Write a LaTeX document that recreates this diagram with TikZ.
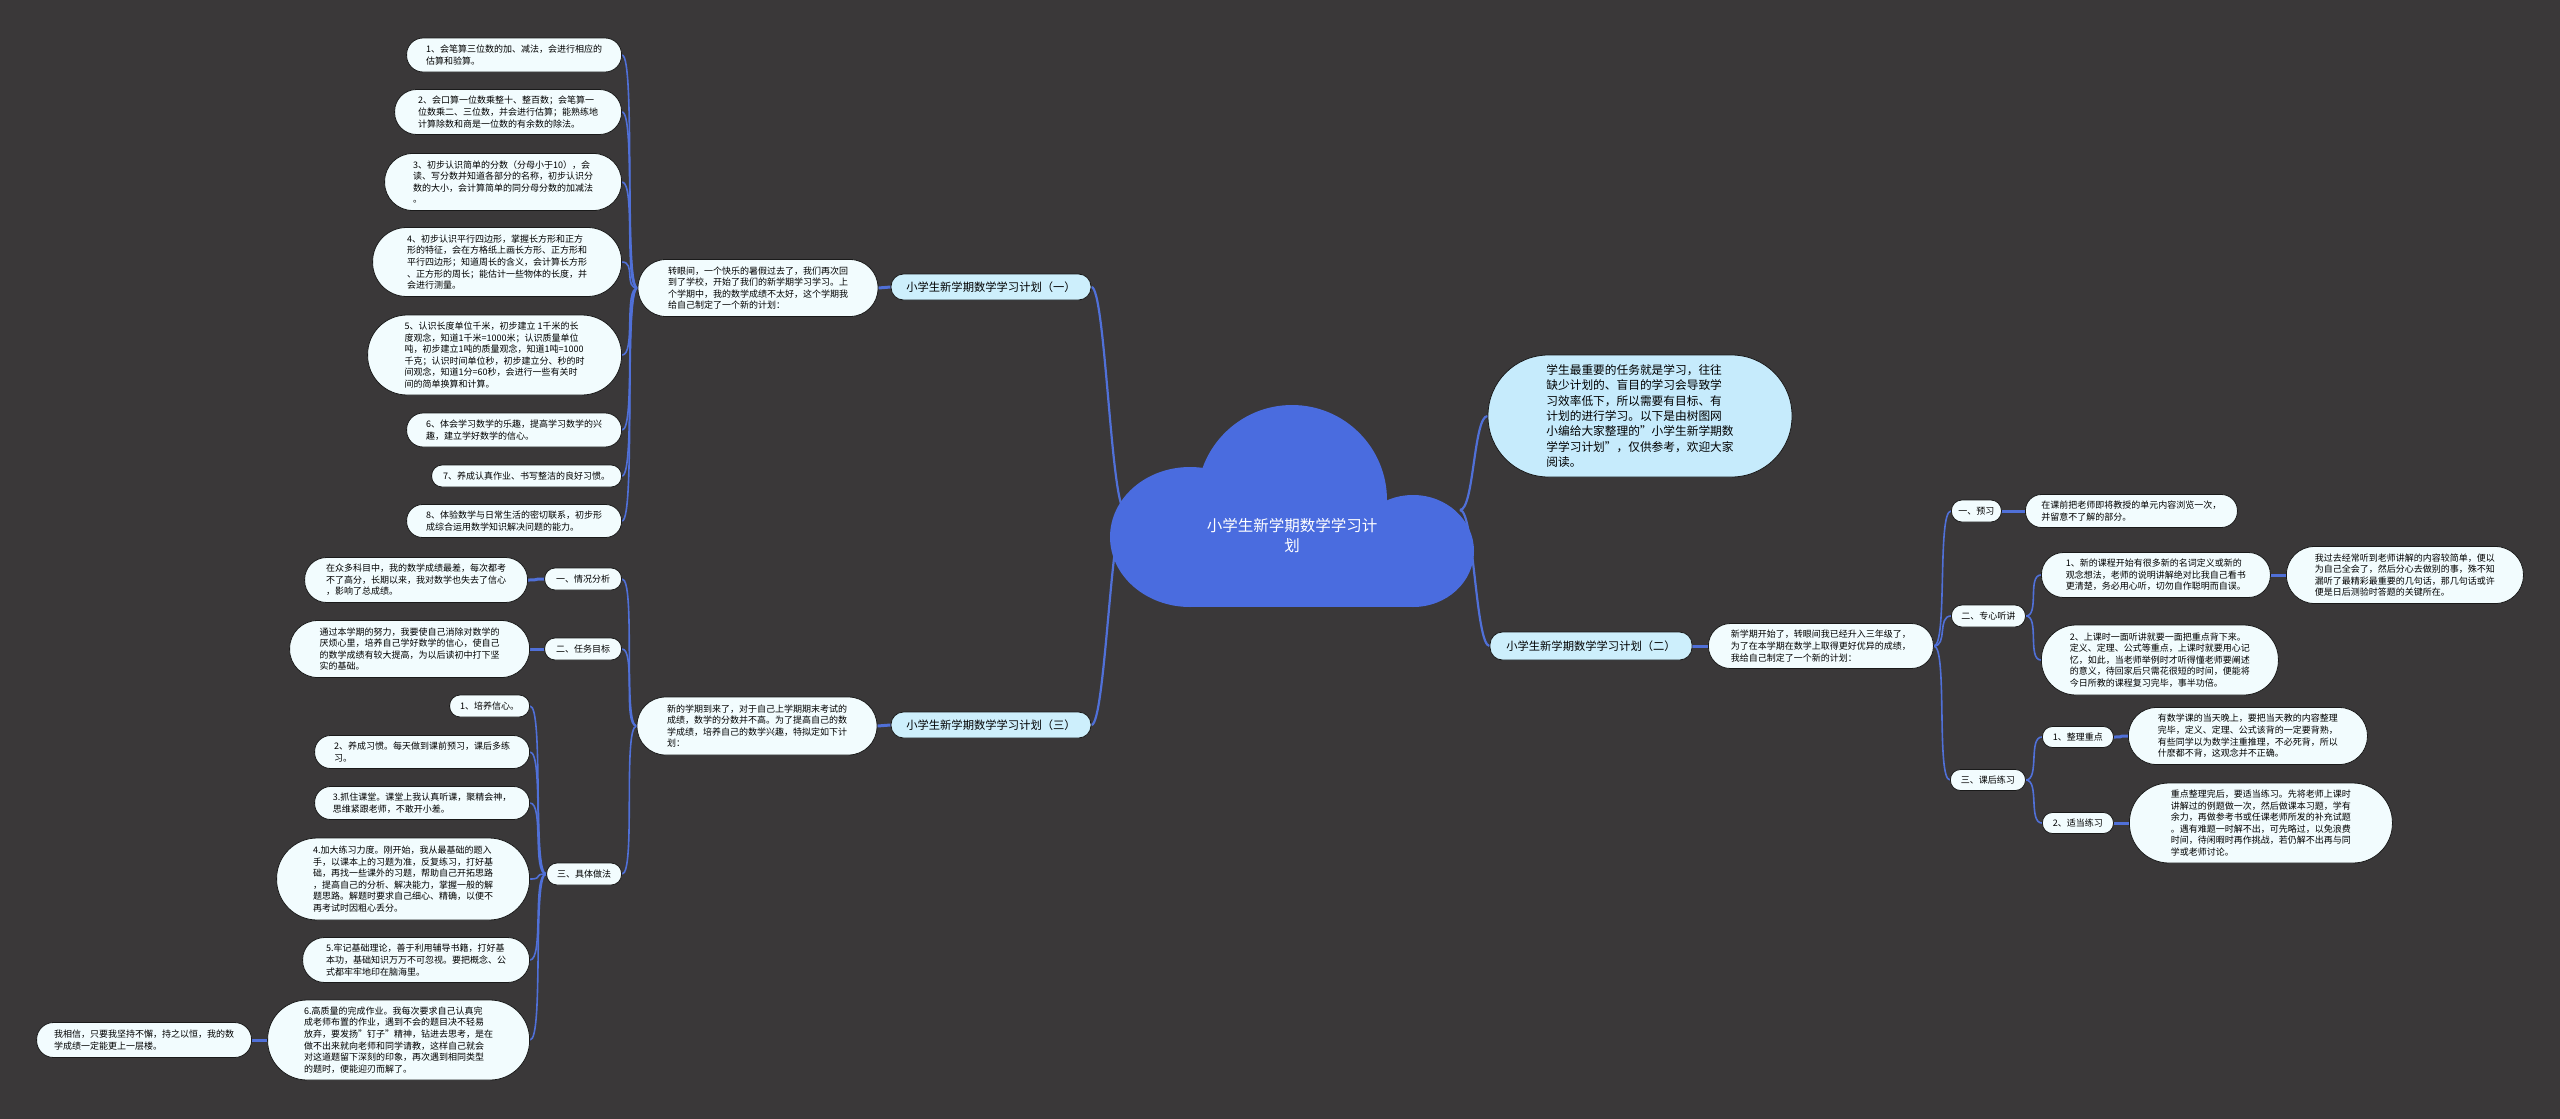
\documentclass[tikz,border=0pt]{standalone}
\usepackage{fontspec}
\setmainfont{Noto Sans CJK SC}
\usetikzlibrary{backgrounds}

\definecolor{bgdark}{HTML}{3A3839}
\definecolor{cloudblue}{HTML}{4A6CDF}
\definecolor{linkblue}{HTML}{5070D8}
\definecolor{leaffill}{HTML}{F2FCFE}
\definecolor{topfill}{HTML}{CDEFFC}
\definecolor{introfill}{HTML}{C6EBFC}
\definecolor{nodeline}{HTML}{1A1A1A}

\newcommand\leaffont{\fontsize{9}{11.6}\selectfont}
\newcommand\topfont{\fontsize{11.3}{14}\selectfont}
\newcommand\introfont{\fontsize{11.7}{15.3}\selectfont}
\newcommand\rootfont{\fontsize{15.5}{20}\selectfont}

\begin{document}
\begin{tikzpicture}[
    x=1pt, y=-1pt,
    pill/.style 2 args={draw=nodeline, line width=0.8pt, minimum width=#1,
                        minimum height=#2, rounded corners=#2/2-0.5pt, inner sep=3pt},
    leaf/.style 2 args={pill={#1}{#2}, fill=leaffill, align=left, font=\leaffont},
    tag/.style 2 args={pill={#1}{#2}, fill=leaffill, align=center, font=\leaffont},
    plan/.style={pill={200pt}{26pt}, fill=topfill, font=\topfont},
    link/.style={draw=linkblue, line width=1.6pt},
    bar/.style={link, line width=3pt},
    toleft/.style={to path={.. controls +(-14,0) and +(14,0) .. (\tikztotarget)}},
    toright/.style={to path={.. controls +(14,0) and +(-14,0) .. (\tikztotarget)}},
  ]
  \useasboundingbox (0,0) rectangle (2560,1119);

  % --- central cloud ---
  \begin{scope}[fill=cloudblue]
    \fill (1190,537) ellipse [x radius=80, y radius=70];
    \fill (1292,500) circle [radius=95];
    \fill (1413,551) ellipse [x radius=61, y radius=56];
    \fill (1190,540) rectangle (1413,607);
  \end{scope}
  \node[font=\rootfont, text=white, align=center] (root) at (1292,536)
    {小学生新学期数学学习计\\划};
  \coordinate (rootL) at (1125,510);
  \coordinate (rootR) at (1460,510);

  % --- main branches ---
  \node[plan] (p1) at (991,287) {小学生新学期数学学习计划（一）};
  \node[plan] (p3) at (991,725) {小学生新学期数学学习计划（三）};
  \node[plan, minimum width=202pt, minimum height=28pt] (p2) at (1591,646)
    {小学生新学期数学学习计划（二）};
  \node[pill={304pt}{122pt}, fill=introfill, font=\introfont, align=left] (intro) at (1640,416)
    {学生最重要的任务就是学习，往往\\缺少计划的、盲目的学习会导致学\\习效率低下，所以需要有目标、有\\计划的进行学习。以下是由树图网\\小编给大家整理的"小学生新学期数\\学学习计划"，仅供参考，欢迎大家\\阅读。};

  % --- plan (一) ---
  \node[leaf={240pt}{57pt}] (zy) at (758,288)
    {转眼间，一个快乐的暑假过去了，我们再次回\\到了学校，开始了我们的新学期学习学习。上\\个学期中，我的数学成绩不太好，这个学期我\\给自己制定了一个新的计划：};
  \node[leaf={215pt}{34pt}, anchor=east] (a1) at (622,55)
    {1、会笔算三位数的加、减法，会进行相应的\\估算和验算。};
  \node[leaf={227pt}{45pt}, anchor=east] (a2) at (622,112)
    {2、会口算一位数乘整十、整百数；会笔算一\\位数乘二、三位数，并会进行估算；能熟练地\\计算除数和商是一位数的有余数的除法。};
  \node[leaf={237pt}{57pt}, anchor=east] (a3) at (622,182)
    {3、初步认识简单的分数（分母小于10），会\\读、写分数并知道各部分的名称，初步认识分\\数的大小，会计算简单的同分母分数的加减法\\。};
  \node[leaf={249pt}{69pt}, anchor=east] (a4) at (622,262)
    {4、初步认识平行四边形，掌握长方形和正方\\形的特征，会在方格纸上画长方形、正方形和\\平行四边形；知道周长的含义，会计算长方形\\、正方形的周长；能估计一些物体的长度，并\\会进行测量。};
  \node[leaf={254pt}{80pt}, anchor=east] (a5) at (622,355)
    {5、认识长度单位千米，初步建立 1千米的长\\度观念，知道1千米=1000米；认识质量单位\\吨，初步建立1吨的质量观念，知道1吨=1000\\千克；认识时间单位秒，初步建立分、秒的时\\间观念，知道1分=60秒，会进行一些有关时\\间的简单换算和计算。};
  \node[leaf={215pt}{34pt}, anchor=east] (a6) at (622,430)
    {6、体会学习数学的乐趣，提高学习数学的兴\\趣，建立学好数学的信心。};
  \node[leaf={190pt}{22pt}, anchor=east] (a7) at (622,476)
    {7、养成认真作业、书写整洁的良好习惯。};
  \node[leaf={215pt}{33pt}, anchor=east] (a8) at (622,521)
    {8、体验数学与日常生活的密切联系，初步形\\成综合运用数学知识解决问题的能力。};

  % --- plan (三) ---
  \node[leaf={240pt}{58pt}] (xq) at (757,726)
    {新的学期到来了，对于自己上学期期末考试的\\成绩，数学的分数并不高。为了提高自己的数\\学成绩，培养自己的数学兴趣，特拟定如下计\\划：};
  \node[tag={77pt}{22pt}, anchor=east] (s1) at (622,579) {一、情况分析};
  \node[tag={77pt}{22pt}, anchor=east] (s2) at (622,649) {二、任务目标};
  \node[tag={75pt}{22pt}, anchor=east] (s3) at (622,874) {三、具体做法};
  \node[leaf={223pt}{45pt}, anchor=east] (s1t) at (528,580)
    {在众多科目中，我的数学成绩最差，每次都考\\不了高分，长期以来，我对数学也失去了信心\\，影响了总成绩。};
  \node[leaf={240pt}{57pt}, anchor=east] (s2t) at (530,649)
    {通过本学期的努力，我要使自己消除对数学的\\厌烦心里，培养自己学好数学的信心，使自己\\的数学成绩有较大提高，为以后读初中打下坚\\实的基础。};
  \node[leaf={80pt}{22pt}, anchor=east] (b1) at (530,706) {1、培养信心。};
  \node[leaf={215pt}{33pt}, anchor=east] (b2) at (530,752)
    {2、养成习惯。每天做到课前预习，课后多练\\习。};
  \node[leaf={215pt}{33pt}, anchor=east] (b3) at (530,803)
    {3.抓住课堂。课堂上我认真听课，聚精会神，\\思维紧跟老师，不敢开小差。};
  \node[leaf={253pt}{82pt}, anchor=east] (b4) at (530,879)
    {4.加大练习力度。刚开始，我从最基础的题入\\手，以课本上的习题为准，反复练习，打好基\\础，再找一些课外的习题，帮助自己开拓思路\\，提高自己的分析、解决能力，掌握一般的解\\题思路。解题时要求自己细心、精确，以便不\\再考试时因粗心丢分。};
  \node[leaf={227pt}{45pt}, anchor=east] (b5) at (530,960)
    {5.牢记基础理论，善于利用辅导书籍，打好基\\本功，基础知识万万不可忽视。要把概念、公\\式都牢牢地印在脑海里。};
  \node[leaf={262pt}{80pt}, anchor=east] (b6) at (530,1040)
    {6.高质量的完成作业。我每次要求自己认真完\\成老师布置的作业，遇到不会的题目决不轻易\\放弃，要发扬"钉子"精神，钻进去思考，是在\\做不出来就向老师和同学请教，这样自己就会\\对这道题留下深刻的印象，再次遇到相同类型\\的题时，便能迎刃而解了。};
  \node[leaf={215pt}{35pt}, anchor=east] (b6t) at (252,1040)
    {我相信，只要我坚持不懈，持之以恒，我的数\\学成绩一定能更上一层楼。};

  % --- plan (二) ---
  \node[leaf={225pt}{45pt}, anchor=west] (xk) at (1708,646)
    {新学期开始了，转眼间我已经升入三年级了，\\为了在本学期在数学上取得更好优异的成绩，\\我给自己制定了一个新的计划：};
  \node[tag={50pt}{22pt}, anchor=west] (r1) at (1951,511) {一、预习};
  \node[tag={74pt}{22pt}, anchor=west] (r2) at (1951,616) {二、专心听讲};
  \node[tag={75pt}{21pt}, anchor=west] (r3) at (1950,780) {三、课后练习};
  \node[leaf={212pt}{33pt}, anchor=west] (r1t) at (2025,511)
    {在课前把老师即将教授的单元内容浏览一次，\\并留意不了解的部分。};
  \node[leaf={229pt}{45pt}, anchor=west] (r2a) at (2041,575)
    {1、新的课程开始有很多新的名词定义或新的\\观念想法，老师的说明讲解绝对比我自己看书\\更清楚，务必用心听，切勿自作聪明而自误。};
  \node[leaf={237pt}{57pt}, anchor=west] (r2a2) at (2286,575)
    {我过去经常听到老师讲解的内容较简单，便以\\为自己全会了，然后分心去做别的事，殊不知\\漏听了最精彩最重要的几句话，那几句话或许\\便是日后测验时答题的关键所在。};
  \node[leaf={237pt}{70pt}, anchor=west] (r2b) at (2041,660)
    {2、上课时一面听讲就要一面把重点背下来。\\定义、定理、公式等重点，上课时就要用心记\\忆，如此，当老师举例时才听得懂老师要阐述\\的意义，待回家后只需花很短的时间，便能将\\今日所教的课程复习完毕，事半功倍。};
  \node[tag={71pt}{21pt}, anchor=west] (r3a) at (2042,737) {1、整理重点};
  \node[tag={71pt}{21pt}, anchor=west] (r3b) at (2042,823) {2、适当练习};
  \node[leaf={239pt}{57pt}, anchor=west] (r3at) at (2128,736)
    {有数学课的当天晚上，要把当天教的内容整理\\完毕，定义、定理、公式该背的一定要背熟，\\有些同学以为数学注重推理，不必死背，所以\\什麽都不背，这观念并不正确。};
  \node[leaf={263pt}{80pt}, anchor=west] (r3bt) at (2129,823)
    {重点整理完后，要适当练习。先将老师上课时\\讲解过的例题做一次，然后做课本习题，学有\\余力，再做参考书或任课老师所发的补充试题\\。遇有难题一时解不出，可先略过，以免浪费\\时间，待闲暇时再作挑战，若仍解不出再与同\\学或老师讨论。};

  % --- connectors, behind everything ---
  \begin{scope}[on background layer]
    \fill[bgdark] (0,0) rectangle (2560,1119);
    \draw[link, line width=2.2pt] (rootL) to[toleft] (p1.east);
    \draw[link, line width=2.2pt] (rootL) to[toleft] (p3.east);
    \draw[link, line width=2.2pt] (rootR) to[toright] (intro.west);
    \draw[link, line width=2.2pt] (rootR) to[toright] (p2.west);
    \draw[bar] (p1.west) -- (zy.east);
    \draw[bar] (p3.west) -- (xq.east);
    \draw[bar] (p2.east) -- (xk.west);
    \foreach \k in {a1,a2,a3,a4,a5,a6,a7,a8}
      \draw[link] (zy.west) to[toleft] (\k.east);
    \foreach \k in {s1,s2,s3}
      \draw[link] (xq.west) to[toleft] (\k.east);
    \draw[bar] (s1.west) to[toleft] (s1t.east);
    \draw[bar] (s2.west) to[toleft] (s2t.east);
    \foreach \k in {b1,b2,b3,b4,b5,b6}
      \draw[link] (s3.west) to[toleft] (\k.east);
    \draw[bar] (b6.west) to[toleft] (b6t.east);
    \foreach \k in {r1,r2,r3}
      \draw[link] (xk.east) to[toright] (\k.west);
    \draw[bar] (r1.east) to[toright] (r1t.west);
    \draw[link] (r2.east) to[toright] (r2a.west);
    \draw[link] (r2.east) to[toright] (r2b.west);
    \draw[bar] (r2a.east) to[toright] (r2a2.west);
    \draw[link] (r3.east) to[toright] (r3a.west);
    \draw[link] (r3.east) to[toright] (r3b.west);
    \draw[bar] (r3a.east) to[toright] (r3at.west);
    \draw[bar] (r3b.east) to[toright] (r3bt.west);
  \end{scope}
\end{tikzpicture}
\end{document}
